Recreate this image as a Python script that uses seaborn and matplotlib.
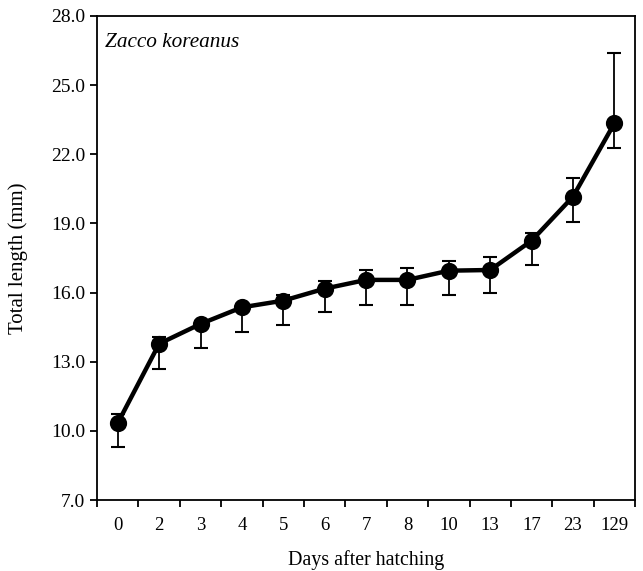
import numpy as np
import pandas as pd
import seaborn as sns
import matplotlib.pyplot as plt

# Data
days = ['0', '2', '3', '4', '5', '6', '7', '8', '10', '13', '17', '23', '129']
length_mean = [10.34, 13.78, 14.64, 15.36, 15.65, 16.17, 16.55, 16.55, 16.95, 16.98, 18.25, 20.16, 23.34]
err_upper = [10.72, 14.06, 14.75, 15.45, 15.90, 16.52, 16.97, 17.08, 17.36, 17.55, 18.60, 20.99, 26.38]
err_lower = [9.29, 12.70, 13.60, 14.30, 14.58, 15.15, 15.48, 15.48, 15.90, 15.97, 17.20, 19.08, 22.29]

df = pd.DataFrame({'Days': days, 'Length': length_mean})

sns.set_style("ticks")
plt.rcParams['font.family'] = ['Liberation Serif', 'DejaVu Serif']
plt.rcParams['text.color'] = 'black'
plt.rcParams['axes.labelcolor'] = 'black'
plt.rcParams['xtick.color'] = 'black'
plt.rcParams['ytick.color'] = 'black'

fig = plt.figure(figsize=(6.43, 5.71), dpi=100)
ax = fig.add_axes([0.151, 0.1243, 0.8366, 0.8477])

# line with markers
sns.pointplot(data=df, x='Days', y='Length', order=days, color='black',
              errorbar=None, markersize=10, linewidth=3.2, ax=ax)

# asymmetric error bars
x = np.arange(len(days))
yerr = [np.array(length_mean) - np.array(err_lower),
        np.array(err_upper) - np.array(length_mean)]
ax.errorbar(x, length_mean, yerr=yerr, fmt='none', ecolor='black',
            elinewidth=1.3, capsize=5, capthick=1.5, zorder=1)

ax.set_xlim(-0.5, len(days) - 0.5)
ax.set_ylim(7, 28)
ax.set_yticks(np.arange(7, 28.1, 3))
ax.set_yticklabels([f'{v:.1f}' for v in np.arange(7, 28.1, 3)])

# ticks between categories, labels centred
ax.set_xticks(x)
ax.set_xticklabels(days)
ax.set_xticks(np.arange(-0.5, len(days), 1), minor=True)
ax.tick_params(axis='x', which='major', length=0, pad=12, labelsize=13.5)
ax.tick_params(axis='x', which='minor', length=5, width=1.3, direction='out')
ax.tick_params(axis='y', length=5, width=1.3, labelsize=14)

for s in ax.spines.values():
    s.set_linewidth(1.3)
    s.set_color('black')

ax.set_xlabel('Days after hatching', fontsize=14.4)
ax.xaxis.set_label_coords(0.5, -0.104)
ax.set_ylabel('Total length (mm)', fontsize=15)
ax.yaxis.set_label_coords(-0.128, 0.5)
ax.text(0.015, 0.945, 'Zacco koreanus', transform=ax.transAxes,
        fontsize=15.3, style='italic', va='center', ha='left')

fig.savefig('out.png', dpi=100)
